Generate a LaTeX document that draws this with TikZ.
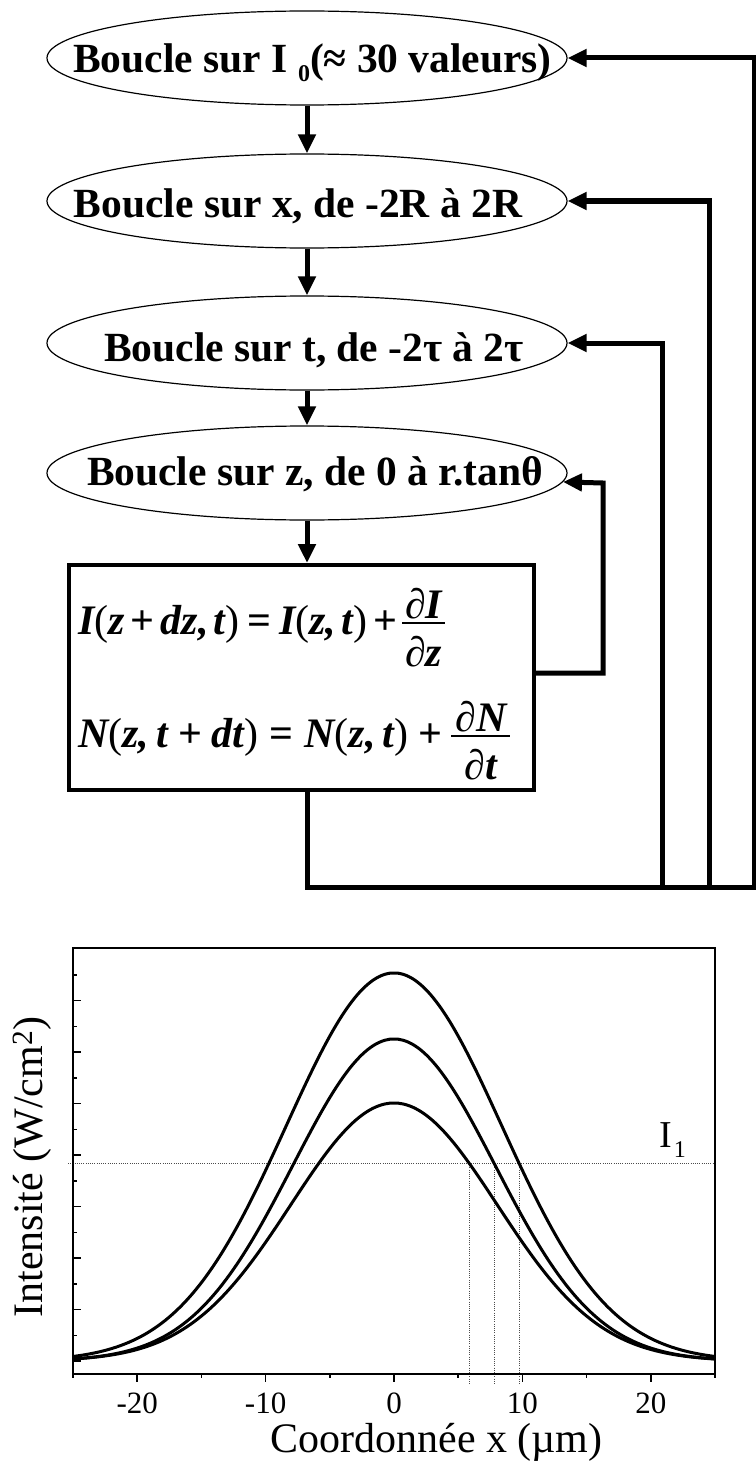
\documentclass[tikz,border=0pt]{standalone}
\usepackage{fontspec}
\setmainfont{Liberation Serif}
\usetikzlibrary{arrows.meta,shapes.geometric,calc}
\newcommand\myv[1]{{\bfseries\itshape #1}}
\newcommand\myb[1]{{\bfseries\upshape #1}}
\newcommand\myr[1]{{\normalfont #1}}
\newcommand\myfrac[3]{\lower32pt\vbox{\offinterlineskip\halign{\hfil\kern#1##\kern#1\hfil\cr#2\cr\noalign{\kern3pt\hrule height1.8pt\kern12pt}#3\cr}}}
\begin{document}
\begin{tikzpicture}[x=1pt,y=-1pt,
  ell/.style={draw,line width=1.2pt,ellipse,minimum width=520pt,minimum height=94pt,inner sep=0pt,
              font=\fontsize{41.5}{48}\selectfont\bfseries,text depth=0pt},
  flow/.style={line width=5pt,line join=miter,-{Triangle[length=19pt,width=17pt]}},
  frame/.style={line width=2pt},
  curve/.style={line width=3pt},
  guide/.style={line width=1pt,black!70,dash pattern=on 1pt off 1.2pt},
  tick/.style={line width=1.5pt},
  eqf/.style={anchor=base west,inner sep=0pt,font=\fontsize{42}{50}\selectfont}]
\useasboundingbox (0,0) rectangle (755,1466);

% ---- flowchart ----
\node[ell,text height=30pt] (e1) at (307,58)
  {\makebox[0pt]{\hspace*{11pt}Boucle sur I \raisebox{-9pt}{\fontsize{24}{24}\selectfont 0}(≈ 30 valeurs)}};
\node[ell,text height=32pt] (e2) at (307,201) {\makebox[0pt]{Boucle sur x, de -2R à 2R\hspace*{18pt}}};
\node[ell,text height=36pt] (e3) at (307,343) {\makebox[0pt]{\hspace*{14pt}Boucle sur t, de -2τ à 2τ}};
\node[ell,text height=24pt] (e4) at (307,473) {\makebox[0pt]{\hspace*{16pt}Boucle sur z, de 0 à r.tanθ}};
\node[draw,line width=4pt,minimum width=465pt,minimum height=225pt,inner sep=0pt] (upd) at (301.2,677.5) {};

\node[eqf] (eq1) at (78,634)
  {\myv{I}\myr{(}\myv{z}\kern6pt\myb{+}\kern6pt\myv{dz}\myv{,}\kern5pt\myv{t}\myr{)}\kern8pt\myb{=}\kern8pt
   \myv{I}\myr{(}\myv{z}\myv{,}\kern5pt\myv{t}\myr{)}\kern6pt\myb{+}\kern5pt\myfrac{3pt}{\myb{∂}\myv{I}}{\myb{∂}\myv{z}}};
\node[eqf] (eq2) at (78,747)
  {\myv{N}\myr{(}\myv{z}\myv{,}\kern7pt\myv{t}\kern10pt\myb{+}\kern10pt\myv{dt}\myr{)}\kern11pt\myb{=}\kern11pt
   \myv{N}\myr{(}\myv{z}\myv{,}\kern7pt\myv{t}\myr{)}\kern10pt\myb{+}\kern9pt\myfrac{4pt}{\myb{∂}\myv{N}}{\myb{∂}\myv{t}}};

\coordinate (b0) at (307,887);
\coordinate (k1) at (754,58);
\coordinate (k2) at (709,201);
\coordinate (k3) at (662,343);
\coordinate (k4) at (603,483);

\draw[flow] (e1) -- (e2);
\draw[flow] (e2) -- (e3);
\draw[flow] (e3) -- (e4);
\draw[flow] (e4.south) -- (e4.south |- upd.north);
\draw[flow] ([yshift=4.5pt]upd.east) -| (k4) -- (e4.-2.25);
\draw[flow] (b0 |- upd.south) -- (b0) -| (k1) -- (e1.east);
\draw[flow] (b0) -| (k2) -- (e2.east);
\draw[flow] (b0) -| (k3) -- (e3.east);

% ---- plot ----
\draw[guide] (68,1163) -- (715,1163);
\foreach \xx in {469,494,519} \draw[guide] (\xx,1163) -- (\xx,1385);

\draw[frame] (73,948) rectangle (715,1374);
\foreach \k in {0,...,7} \draw[tick] (73,{1361-51.5*\k}) -- ++(8,0);
\foreach \k in {0,...,7} \draw[tick] (73,{1335.25-51.5*\k}) -- ++(4,0);
\foreach \v in {-20,-10,0,10,20} \draw[tick] ({394+12.84*\v},1374) -- ++(0,8);
\foreach \v in {-25,-15,-5,5,15,25} \draw[tick] ({394+12.84*\v},1374) -- ++(0,4);

\draw[curve] plot[domain=-25:25,samples=151,smooth] ({394+12.84*\x},{1361-388*exp(-(\x)*(\x)/140.7)});
\draw[curve] plot[domain=-25:25,samples=151,smooth] ({394+12.84*\x},{1361-322*exp(-(\x)*(\x)/124.5)});
\draw[curve] plot[domain=-25:25,samples=151,smooth] ({394+12.84*\x},{1361-258*exp(-(\x)*(\x)/128.8)});

\foreach \v/\nm in {-20/ta,-10/tb,0/tc,10/td,20/te}
  \node[anchor=base,inner sep=0pt,font=\fontsize{31}{36}\selectfont] (\nm) at ({394+12.84*\v},1413) {\v};
\node[anchor=base,inner sep=0pt,font=\fontsize{42}{50}\selectfont] (xl) at (436.5,1452) {Coordonnée x (µm)};
\node[rotate=90,anchor=base,inner sep=0pt,font=\fontsize{42}{50}\selectfont] (yl) at (42,1167) {Intensité (W/cm\textsuperscript{2})};
\node[anchor=base west,inner sep=0pt,font=\fontsize{38}{44}\selectfont] (i1) at (659,1147)
  {I\kern2pt\raisebox{-10pt}{\fontsize{24}{24}\selectfont 1}};
\end{tikzpicture}
\end{document}
